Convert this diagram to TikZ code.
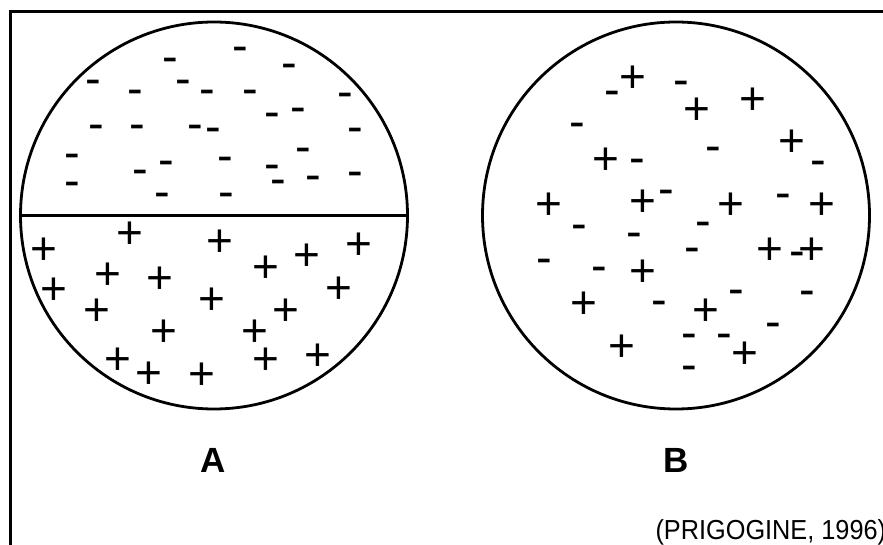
\documentclass[tikz,border=0pt]{standalone}
\usepackage{fontspec}
\setmainfont{Liberation Sans}
\newfontfamily\citefont[FakeStretch=0.92]{Liberation Sans}
\usepackage{xcolor}

\begin{document}
\begin{tikzpicture}[
      x=1pt, y=-1pt,
      vessel/.style={
        draw=black, circle, line width=2.8pt, minimum size=387pt,
        inner sep=0pt, outer sep=0pt
      },
      poscharge/.style={
        font=\fontsize{46}{46}\selectfont, inner sep=0pt,
        anchor=base, yshift=-16pt
      },
      negcharge/.style={
        font=\fontsize{47}{47}\selectfont, inner sep=0pt,
        anchor=base, yshift=-11pt
      },
      caption/.style={font=\fontsize{35}{35}\selectfont\bfseries, anchor=base},
      source/.style={font=\citefont\fontsize{27.5}{27.5}\selectfont, anchor=base west}
    ]
    \useasboundingbox (0,0) rectangle (883,545);

    % frame (left and top only)
    \draw[line width=3.5pt] (10.5,545) -- (10.5,11.5) -- (883,11.5);

    % the two vessels
    \node[vessel] (vesA) at (214,215.5) {};
    \node[vessel] (vesB) at (676,215.5) {};
    \draw[line width=2.8pt] (vesA.west) -- (vesA.east);

    % A: separated charges
    \foreach \x/\y [count=\i] in {240.7/51, 170.3/62, 289.3/67.3, 93.7/83.3,
        183.3/83.3, 135.3/94, 207/94, 250/94, 345.3/96.7, 272.3/116.7,
        298.3/111.3, 96.3/128.7, 137.7/128.7, 195.3/128.7, 213.7/131.3,
        355.3/131.3, 303.3/151.3, 72.7/158, 166.3/164.7, 225/160.7, 272/169,
        140.3/174, 313.7/179.3, 355.3/175.3, 278.7/183.3, 72.7/186,
        162.3/196.7, 226.3/196.7}
      \node[negcharge] (a-neg\i) at (\x,\y) {-};
    \foreach \x/\y [count=\i] in {43.7/248.7, 130/233, 220/241, 359.3/243.3,
        307.3/254.3, 265.7/266.3, 107.7/273, 160/277, 54/288, 338.7/287.7,
        212/298.3, 97.3/309, 286.3/309.3, 163.7/330.3, 255.3/330.3,
        118/358.7, 149.3/372, 201.7/373.3, 265.7/358.7, 317.7/354.7}
      \node[poscharge] (a-pos\i) at (\x,\y) {+};

    % B: mixed charges
    \foreach \x/\y [count=\i] in {633.3/76.7, 697.3/108.3, 753.3/98.3,
        792.3/140.7, 606/158.3, 548.7/204, 643.3/200.7, 731.3/204, 822/204,
        770/249, 812/249, 643.3/270.3, 583.7/302.3, 706.3/309, 621.7/345.7,
        745.3/352}
      \node[poscharge] (b-pos\i) at (\x,\y) {+};
    \foreach \x/\y [count=\i] in {612.3/95, 681.3/85, 577/127, 637/162.3,
        713/150.3, 818.3/164.7, 666/194, 783.3/197.3, 579.7/229, 634.3/237,
        703.7/225.7, 692/251.7, 797.7/255.7, 544.7/262.3, 599.3/270.3,
        736/293, 807.7/294.7, 659.3/305, 773/326.3, 689.3/337, 724.3/337,
        689/369.3}
      \node[negcharge] (b-neg\i) at (\x,\y) {-};

    \node[caption] (capA) at (213,472) {A};
    \node[caption] (capB) at (676,472) {B};
    \node[source] (cite) at (652,539) {(PRIGOGINE, 1996)};
  \end{tikzpicture}
\end{document}
